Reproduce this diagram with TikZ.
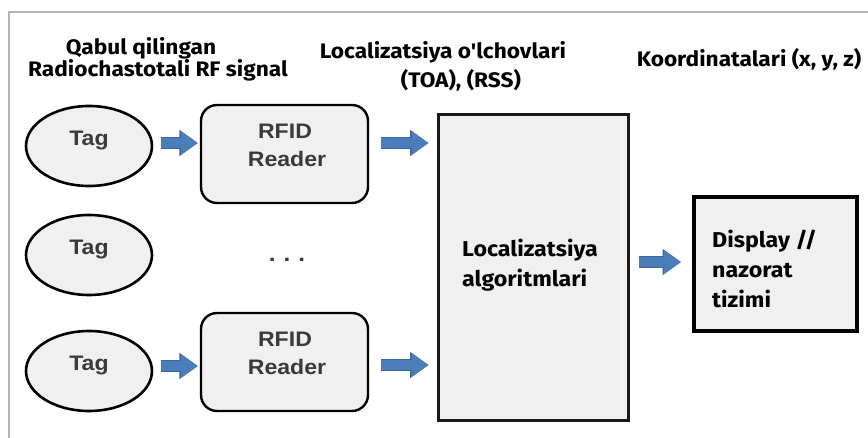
\documentclass[tikz,border=0pt]{standalone}
\usepackage{fontspec}
\setmainfont{Liberation Sans}
\newfontfamily\hdrfont{Fira Sans}[UprightFont=* Bold, FakeStretch=1.08]
\newfontfamily\grfont{Liberation Sans}[UprightFont=* Bold, FakeStretch=1.1]
\usetikzlibrary{shapes.geometric,arrows.meta}
\definecolor{boxfill}{HTML}{F0F0F0}
\definecolor{arrblue}{HTML}{4A7DBA}
\definecolor{arrdark}{HTML}{3A6699}
\definecolor{txtgray}{HTML}{3A3A3A}
\definecolor{framegray}{HTML}{B4B4B4}
\tikzset{
  tagn/.style={ellipse, draw=black, line width=2.6pt, fill=boxfill, minimum width=126pt, minimum height=80pt, inner sep=0pt},
  rdr/.style={rectangle, rounded corners=16pt, draw=black, line width=2.4pt, fill=boxfill, minimum width=167pt, minimum height=98pt, inner sep=0pt},
  bigbox/.style={rectangle, draw=black!90, line width=3pt, fill=boxfill, inner sep=0pt},
  disp/.style={rectangle, draw=black, line width=4pt, fill=boxfill, inner sep=0pt},
  grtxt/.style={font=\grfont\fontsize{21}{25}\selectfont, text=txtgray, inner sep=0pt, anchor=base},
  hdr/.style={font=\hdrfont\fontsize{21}{25}\selectfont, inner sep=0pt, anchor=base},
  btxt/.style={font=\hdrfont\fontsize{21.5}{25}\selectfont, inner sep=0pt, anchor=base west},
  blk/.style={draw=arrblue, line width=10pt, -{Triangle[width=23pt,length=17pt]},
    preaction={draw=arrdark, line width=11.5pt, -{Triangle[width=25pt,length=18.5pt]}}},
}
\begin{document}
\begin{tikzpicture}[x=1pt,y=-1pt]
\useasboundingbox[fill=white] (0,0) rectangle (868,438);
% frame
\draw[framegray, line width=2pt] (9,438) -- (9,12) -- (868,12);
% headers
\node[hdr] (h1a) at (141,55) {Qabul qilingan};
\node[hdr] (h1b) at (158,77) {Radiochastotali RF signal};
\node[hdr] (h2a) at (443,59) {Localizatsiya o'lchovlari};
\node[hdr] (h2b) at (461,88) {(TOA), (RSS)};
\node[hdr] (h3) at (749,67) {Koordinatalari (x, y, z)};
% tags
\node[tagn] (t1) at (89,146) {};
\node[tagn] (t2) at (89,255) {};
\node[tagn] (t3) at (89,371) {};
\node[grtxt] (t1l) at (t1.center) {Tag};
\node[grtxt] (t2l) at (t2.center) {Tag};
\node[grtxt] (t3l) at (t3.center) {Tag};
% readers
\node[rdr] (r1) at (284.5,154) {};
\node[rdr] (r2) at (284.5,362) {};
\node[grtxt] (r1a) at (285,139) {RFID};
\node[grtxt] (r1b) at (287,166.5) {Reader};
\node[grtxt] (r2a) at (285,347) {RFID};
\node[grtxt] (r2b) at (287,374.5) {Reader};
\node[font=\grfont\fontsize{22}{24}\selectfont, text=txtgray, inner sep=0pt] (dots) at (287,260) {.\hspace{8pt}.\hspace{8pt}.};
% algorithm box
\node[bigbox, minimum width=190pt, minimum height=305pt] (alg) at (533,267.5) {};
\node[btxt] (alg1) at (462,257) {Localizatsiya};
\node[btxt] (alg2) at (462,287) {algoritmlari};
% display box
\node[disp, minimum width=163pt, minimum height=134pt] (dsp) at (775.5,264) {};
\node[btxt] (d1) at (712,248) {Display //};
\node[btxt] (d2) at (712,278) {nazorat};
\node[btxt] (d3) at (712,308) {tizimi};
% arrows
\draw[blk, shorten <=8pt, shorten >=2pt] ([yshift=3pt]t1.east) -- ([yshift=3pt]t1.east -| r1.west);
\draw[blk, shorten <=8pt, shorten >=2pt] ([yshift=5pt]t3.east) -- ([yshift=5pt]t3.east -| r2.west);
\draw[blk, shorten <=12pt, shorten >=8pt] ([yshift=11pt]r1.east) -- ([yshift=11pt]r1.east -| alg.west);
\draw[blk, shorten <=12pt, shorten >=8pt] ([yshift=-3pt]r2.east) -- ([yshift=-3pt]r2.east -| alg.west);
\draw[blk, shorten <=9pt, shorten >=11pt] ([yshift=2pt]dsp.west -| alg.east) -- ([yshift=2pt]dsp.west);
\end{tikzpicture}
\end{document}
